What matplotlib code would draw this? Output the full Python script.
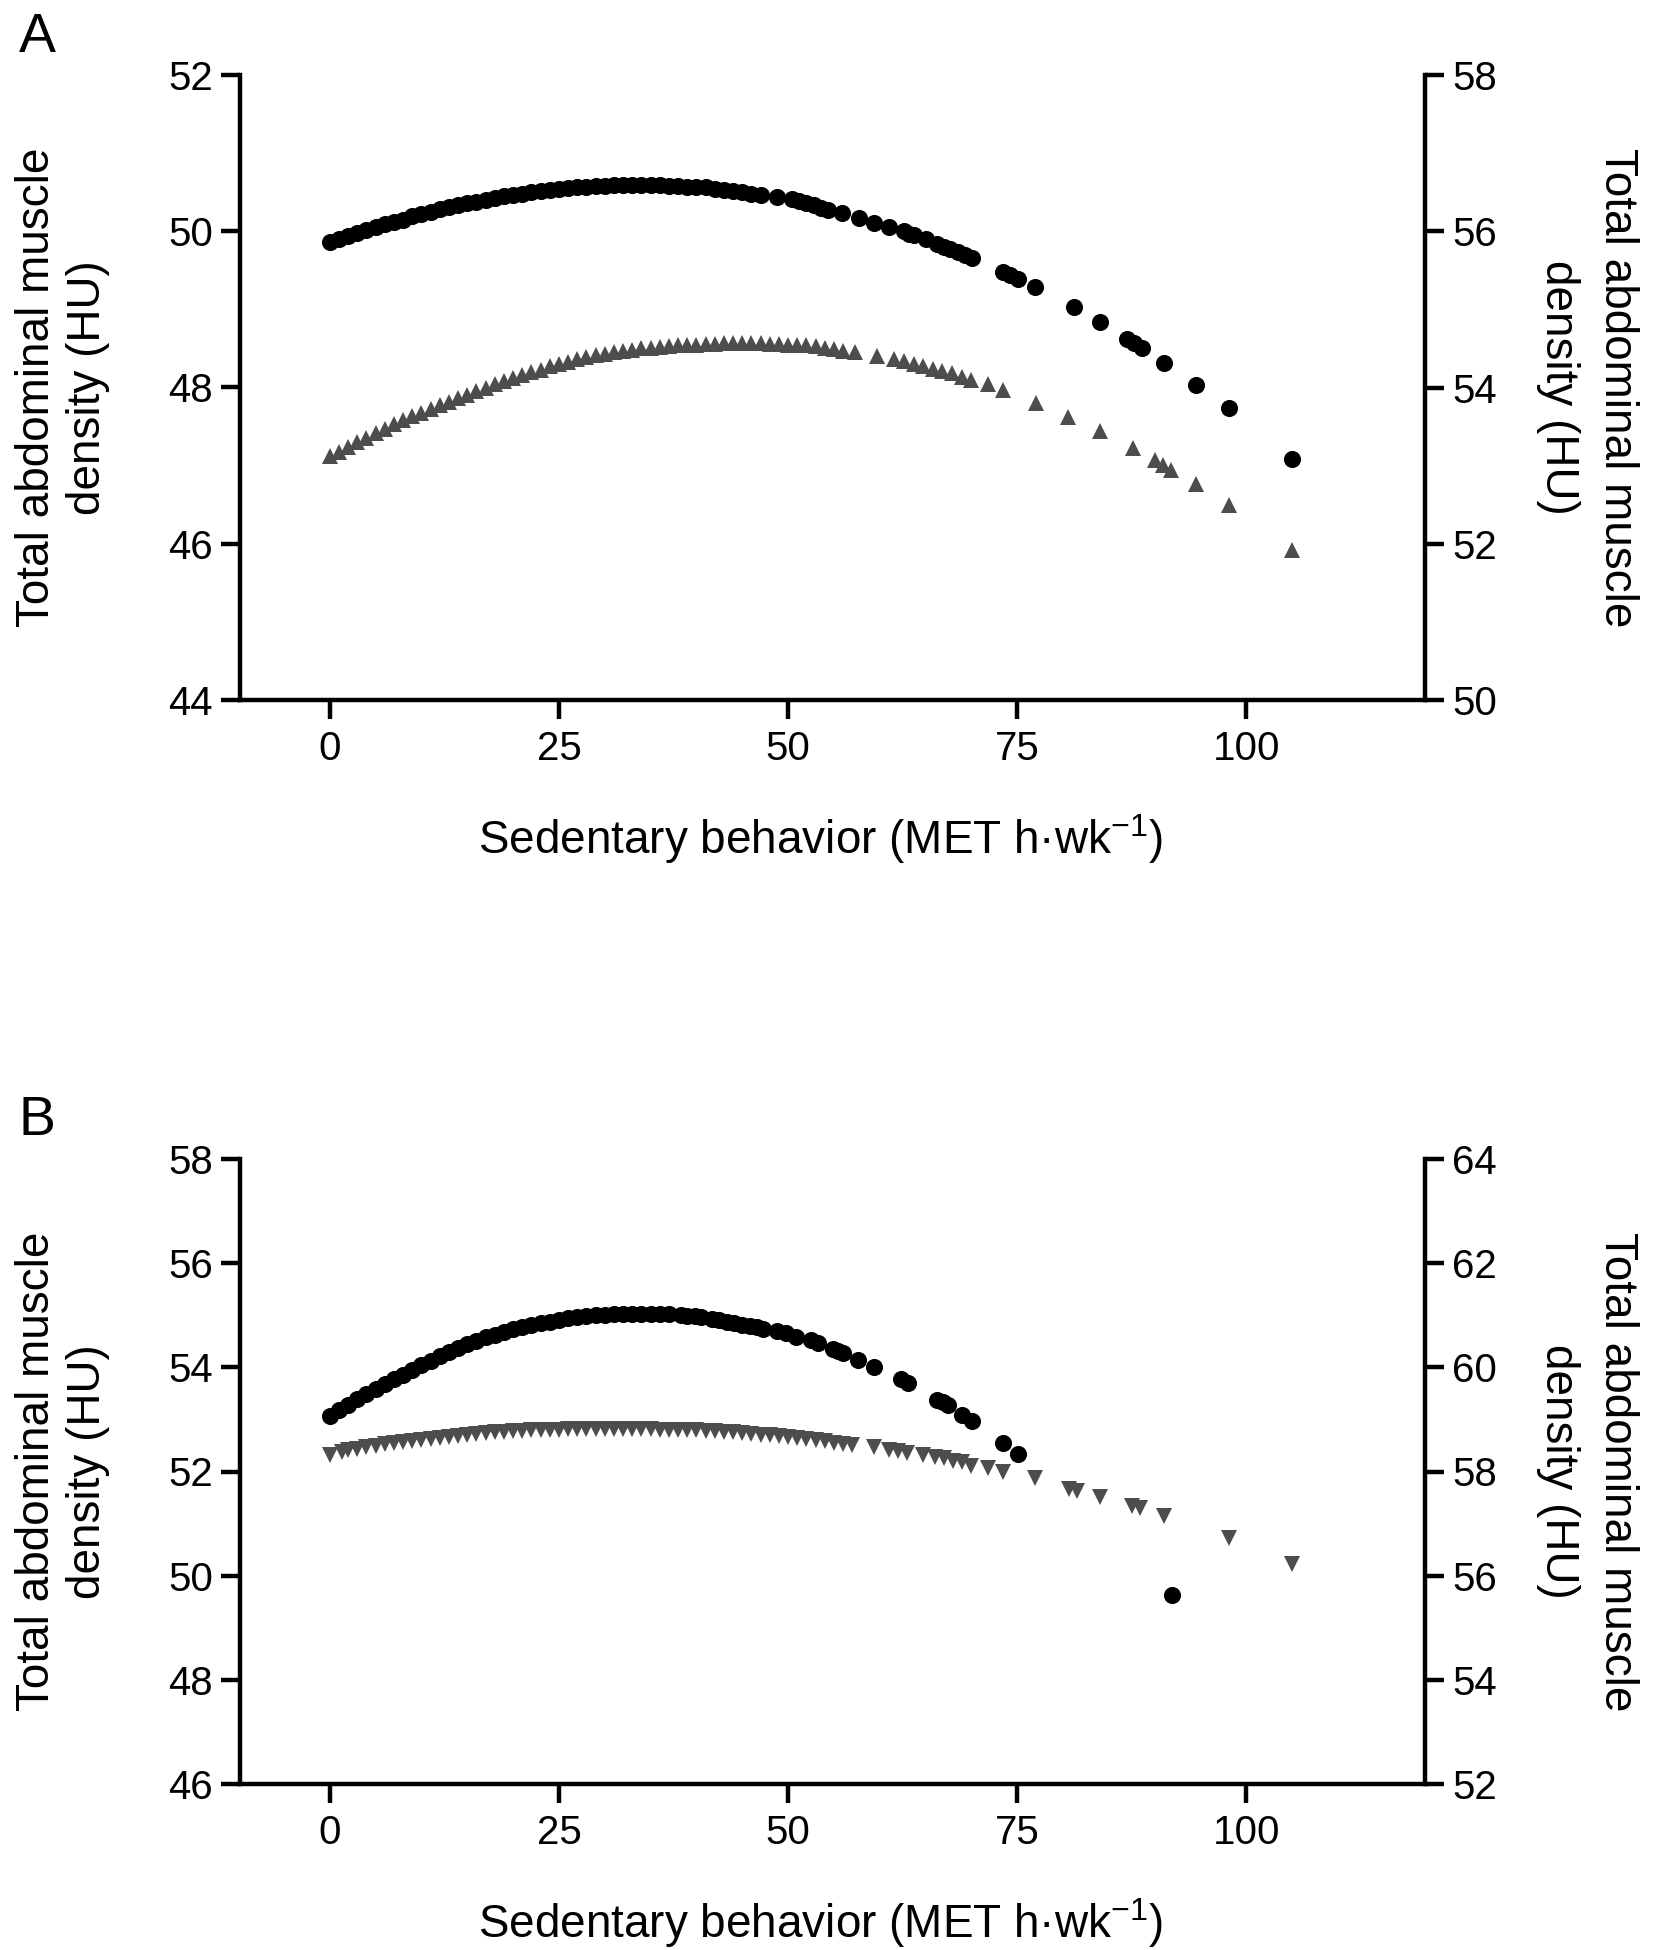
import matplotlib
matplotlib.use("Agg")
import matplotlib.pyplot as plt

plt.rcParams['font.family'] = ['Liberation Sans', 'DejaVu Sans']
plt.rcParams['mathtext.fontset'] = 'custom'
plt.rcParams['mathtext.rm'] = 'Liberation Sans'
plt.rcParams['mathtext.it'] = 'Liberation Sans'

# ---------------- data ----------------
x_ticks = [0, 25, 50, 75, 100]
x_label = "Sedentary behavior (MET h\u00b7wk$^{-1}$)"
y_label = "Total abdominal muscle\ndensity (HU)"

# Panel A, circles (left axis)
a_circ_x = [0, 1, 2, 3, 4, 5, 6, 7, 8, 9, 10, 11, 12, 13, 14, 15, 16, 17, 18, 19,
            20, 21, 22, 23, 24, 25, 26, 27, 28, 29, 30, 31, 32, 33, 34, 35, 36, 37,
            38, 39, 40, 41, 42, 43, 44, 45, 46, 47, 48.8, 50.4, 51.2, 52.0, 52.8,
            53.6, 54.4, 55.9, 57.7, 59.4, 61.0, 62.6, 63.2, 63.7, 65.0, 66.3, 67.0,
            67.7, 68.5, 69.3, 70.1, 73.5, 74.2, 75.1, 77.0, 81.2, 84.0, 87.0, 87.7,
            88.6, 91.0, 94.5, 98.1, 105.0]
a_circ_y = [49.86, 49.90, 49.94, 49.98, 50.02, 50.05, 50.09, 50.12, 50.15, 50.19,
            50.22, 50.25, 50.28, 50.31, 50.33, 50.36, 50.38, 50.40, 50.43, 50.45,
            50.47, 50.48, 50.50, 50.52, 50.53, 50.54, 50.55, 50.56, 50.57, 50.58,
            50.58, 50.59, 50.59, 50.59, 50.59, 50.59, 50.59, 50.58, 50.58, 50.57,
            50.57, 50.56, 50.54, 50.53, 50.52, 50.50, 50.48, 50.46, 50.44, 50.41,
            50.39, 50.36, 50.33, 50.30, 50.27, 50.23, 50.17, 50.11, 50.06, 50.00,
            49.97, 49.95, 49.90, 49.84, 49.80, 49.77, 49.73, 49.70, 49.66, 49.48,
            49.44, 49.39, 49.28, 49.03, 48.84, 48.62, 48.57, 48.51, 48.31, 48.03,
            47.74, 47.09]

# Panel A, triangles (right axis)
a_tri_x = [0, 1, 2, 3, 4, 5, 6, 7, 8, 9, 10, 11, 12, 13, 14, 15, 16, 17, 18, 19,
           20, 21, 22, 23, 24, 25, 26, 27, 28, 29, 30, 31, 32, 33, 34, 35, 36, 37,
           38, 39, 40, 41, 42, 43, 44, 45, 46, 47, 48, 49, 50, 51, 52, 53, 54, 55,
           56, 57.3, 59.7, 61.6, 62.6, 63.7, 64.7, 65.8, 66.8, 67.9, 69.0, 70.0,
           71.8, 73.5, 77.1, 80.5, 84.0, 87.6, 90.0, 90.9, 91.8, 94.5, 98.1, 105.0]
a_tri_y = [53.12, 53.18, 53.24, 53.30, 53.36, 53.42, 53.47, 53.53, 53.58, 53.63,
           53.68, 53.73, 53.77, 53.82, 53.86, 53.91, 53.96, 54.00, 54.04, 54.08,
           54.12, 54.16, 54.20, 54.23, 54.27, 54.30, 54.33, 54.36, 54.39, 54.41,
           54.43, 54.45, 54.47, 54.48, 54.50, 54.51, 54.52, 54.53, 54.54, 54.55,
           54.55, 54.56, 54.56, 54.57, 54.57, 54.57, 54.57, 54.57, 54.56, 54.56,
           54.55, 54.55, 54.54, 54.53, 54.51, 54.49, 54.47, 54.45, 54.40, 54.37,
           54.34, 54.30, 54.27, 54.24, 54.21, 54.18, 54.14, 54.10, 54.04, 53.97,
           53.80, 53.62, 53.44, 53.23, 53.07, 53.01, 52.95, 52.77, 52.50, 51.92]

# Panel B, circles (left axis)
b_circ_x = [0, 1, 2, 3, 4, 5, 6, 7, 8, 9, 10, 11, 12, 13, 14, 15, 16, 17, 18, 19,
            20, 21, 22, 23, 24, 25, 26, 27, 28, 29, 30, 31, 32, 33, 34, 35, 36, 37,
            38.3, 39.0, 39.8, 40.5, 41.7, 42.5, 43.3, 44.1, 45.0, 45.8, 46.6, 47.3,
            48.8, 49.8, 50.9, 52.5, 53.3, 54.9, 55.5, 56.0, 57.6, 59.4, 62.3, 63.1,
            66.3, 66.9, 67.4, 69.0, 70.1, 73.5, 75.1, 91.9]
b_circ_y = [53.07, 53.18, 53.28, 53.39, 53.49, 53.59, 53.68, 53.77, 53.86, 53.95,
            54.04, 54.12, 54.21, 54.30, 54.38, 54.45, 54.51, 54.58, 54.63, 54.68,
            54.73, 54.78, 54.82, 54.85, 54.88, 54.91, 54.94, 54.96, 54.98, 55.00,
            55.01, 55.02, 55.03, 55.03, 55.03, 55.03, 55.03, 55.02, 55.00, 54.99,
            54.98, 54.97, 54.93, 54.91, 54.88, 54.85, 54.82, 54.80, 54.77, 54.74,
            54.70, 54.65, 54.59, 54.53, 54.47, 54.36, 54.32, 54.27, 54.15, 54.01,
            53.77, 53.69, 53.38, 53.33, 53.27, 53.09, 52.97, 52.55, 52.34, 49.63]

# Panel B, inverted triangles (right axis)
b_tri_x = [0, 1.3, 2, 3, 4, 5, 6, 7, 8, 9, 10, 11, 12, 13, 14, 15, 16, 17, 18, 19,
           20, 21, 22, 23, 24, 25, 26, 27, 28, 29, 30, 31, 32, 33, 34, 35, 36, 37,
           38, 39, 40, 41, 42, 43, 44, 45, 46, 47, 48, 49, 50, 51, 52, 53, 54, 55,
           56, 57, 59.4, 61.0, 62.0, 63.0, 64.7, 66.0, 67.0, 68.0, 69.0, 70.0, 71.8,
           73.5, 77.0, 80.7, 81.5, 84.0, 87.5, 88.4, 91.0, 98.1, 105.0]
b_tri_y = [58.32, 58.38, 58.41, 58.44, 58.47, 58.49, 58.52, 58.54, 58.56, 58.58,
           58.61, 58.63, 58.65, 58.67, 58.69, 58.71, 58.72, 58.74, 58.75, 58.76,
           58.77, 58.78, 58.79, 58.79, 58.80, 58.80, 58.81, 58.81, 58.81, 58.81,
           58.81, 58.81, 58.81, 58.81, 58.81, 58.81, 58.80, 58.80, 58.80, 58.79,
           58.79, 58.78, 58.77, 58.76, 58.75, 58.74, 58.72, 58.71, 58.70, 58.68,
           58.67, 58.65, 58.63, 58.61, 58.58, 58.55, 58.52, 58.50, 58.47, 58.42,
           58.39, 58.36, 58.32, 58.28, 58.25, 58.21, 58.18, 58.11, 58.06, 57.99,
           57.87, 57.66, 57.62, 57.52, 57.33, 57.29, 57.14, 56.72, 56.22]

a_left_ticks = [44, 46, 48, 50, 52]
a_right_ticks = [50, 52, 54, 56, 58]
b_left_ticks = [46, 48, 50, 52, 54, 56, 58]
b_right_ticks = [52, 54, 56, 58, 60, 62, 64]

# ---------------- figure ----------------
W, H = 1656, 1950
fig = plt.figure(figsize=(W / 100, H / 100), dpi=100)

TICK_FS = 29
LABEL_FS = 33
SPINE_LW = 3.2
TRI_COLOR = '#4d4d4d'


def style(ax):
    ax.spines['top'].set_visible(False)
    for s in ['left', 'right', 'bottom']:
        ax.spines[s].set_linewidth(SPINE_LW)
    ax.tick_params(axis='both', which='major', direction='out', length=13.5,
                   width=SPINE_LW, labelsize=TICK_FS, pad=6)


def panel(rect, cx, cy, tx, ty, tmarker, lticks, rticks, letter, letter_y):
    ax = fig.add_axes(rect)
    ax2 = ax.twinx()
    ax.set_xlim(-9.8, 119.5)
    ax.set_ylim(lticks[0], lticks[-1])
    ax2.set_ylim(rticks[0], rticks[-1])
    ax.set_yticks(lticks)
    ax2.set_yticks(rticks)
    ax.set_xticks(x_ticks)
    style(ax)
    style(ax2)
    ax2.spines['left'].set_visible(False)
    ax2.spines['bottom'].set_visible(False)
    ax.spines['right'].set_visible(False)
    ax.tick_params(axis='x', pad=8)

    ax2.plot(tx, ty, linestyle='none', marker=tmarker, markersize=11.5,
             color=TRI_COLOR, markeredgewidth=0, clip_on=False, zorder=2)
    ax.plot(cx, cy, linestyle='none', marker='o', markersize=12.3,
            color='black', markeredgewidth=0, clip_on=False, zorder=3)
    ax.set_zorder(ax2.get_zorder() + 1)
    ax.patch.set_visible(False)

    ax.set_ylabel(y_label, fontsize=LABEL_FS, linespacing=1.2, va='center')
    ax.yaxis.set_label_coords(-0.150, 0.5)
    ax2.set_ylabel(y_label, fontsize=LABEL_FS, linespacing=1.45, rotation=270,
                   va='center')
    ax2.yaxis.set_label_coords(1.137, 0.5)
    ax.set_xlabel(x_label, fontsize=LABEL_FS)
    ax.xaxis.label.set_va('center')
    ax.xaxis.set_label_coords(0.49, -0.2224)

    fig.text(37 / W, 1 - letter_y / H, letter, fontsize=40, ha='center',
             va='center')
    return ax


panel([240 / W, 1 - 700 / H, 1185 / W, 625 / H], a_circ_x, a_circ_y,
      a_tri_x, a_tri_y, '^', a_left_ticks, a_right_ticks, 'A', 38)
panel([240 / W, 1 - 1784 / H, 1185 / W, 625 / H], b_circ_x, b_circ_y,
      b_tri_x, b_tri_y, 'v', b_left_ticks, b_right_ticks, 'B', 1121)

fig.savefig('out.png', dpi=100, facecolor='white')
